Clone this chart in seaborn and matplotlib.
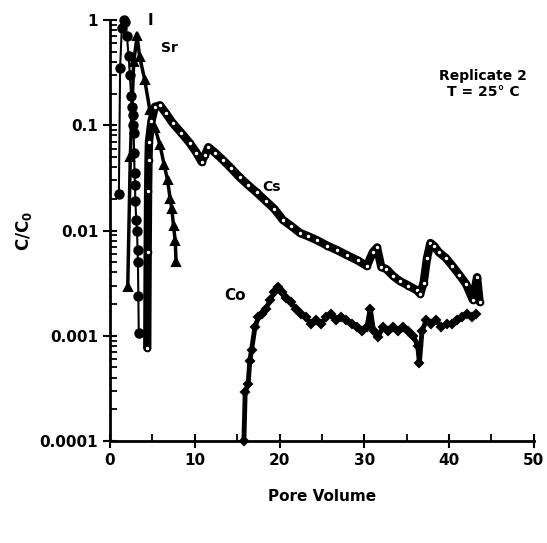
import numpy as np, pandas as pd
import seaborn as sns
import matplotlib.pyplot as plt

# pore volume / relative concentration
i_x = [1.05, 1.2, 1.4, 1.6, 1.8, 2.0, 2.2, 2.35, 2.5, 2.6, 2.7, 2.75, 2.8, 2.85, 2.9, 2.95, 3.0, 3.1, 3.2, 3.25, 3.3, 3.35, 3.4]
i_y = [0.022, 0.35, 0.85, 1.0, 0.95, 0.7, 0.46, 0.3, 0.19, 0.15, 0.125, 0.1, 0.085, 0.055, 0.035, 0.027, 0.019, 0.0126, 0.01, 0.0065, 0.005, 0.0024, 0.00105]

sr_x = [2.1, 2.4, 2.8, 3.2, 3.5, 4.1, 4.7, 5.3, 5.9, 6.4, 6.8, 7.1, 7.3, 7.5, 7.7, 7.8]
sr_y = [0.0029, 0.05, 0.4, 0.7, 0.45, 0.27, 0.14, 0.095, 0.065, 0.042, 0.03, 0.02, 0.016, 0.011, 0.008, 0.005]

cs_x = [4.4, 4.45, 4.5, 4.55, 4.6, 4.9, 5.3, 5.9, 6.6, 7.4, 8.4, 9.4, 10.2, 10.8, 11.2,
        11.6, 12.4, 13.3, 14.3, 15.3, 16.3, 17.3, 18.4, 19.4, 20.4, 21.4, 22.4, 23.4, 24.4, 25.6,
        26.8, 28.0, 29.2, 30.3, 31.0, 31.5, 32.0, 32.6, 33.4, 34.2, 35.2, 36.2, 36.6, 37.0, 37.4,
        37.8, 38.2, 38.8, 39.6, 40.4, 41.2, 42.0, 42.8, 43.3, 43.6]
cs_y = [0.00077, 0.0062, 0.024, 0.047, 0.07, 0.11, 0.15, 0.155, 0.13, 0.105, 0.085, 0.068, 0.055, 0.045, 0.052,
        0.062, 0.055, 0.047, 0.039, 0.032, 0.027, 0.023, 0.019, 0.016, 0.0126, 0.011, 0.0095, 0.0088, 0.0081, 0.0072,
        0.0065, 0.0058, 0.0052, 0.0046, 0.0062, 0.0069, 0.0045, 0.0043, 0.0037, 0.0033, 0.003, 0.0027, 0.0025, 0.0032, 0.0055,
        0.0076, 0.0072, 0.0062, 0.0055, 0.0046, 0.0038, 0.0031, 0.0022, 0.0036, 0.0021]

co_x = [15.8, 15.95, 16.3, 16.5, 16.7, 17.1, 17.5, 17.9, 18.4, 18.9, 19.4, 19.8, 20.3, 20.8, 21.3,
        21.9, 22.5, 23.1, 23.7, 24.3, 24.9, 25.5, 26.1, 26.7, 27.3, 27.9, 28.5, 29.1, 29.7, 30.3,
        30.7, 31.1, 31.6, 32.2, 32.8, 33.4, 34.0, 34.6, 35.2, 35.8, 36.3, 36.5, 36.8, 37.3, 37.9,
        38.5, 39.1, 39.7, 40.3, 40.9, 41.5, 42.1, 42.7, 43.2]
co_y = [0.0001, 0.00029, 0.00035, 0.00058, 0.00073, 0.0012, 0.0015, 0.0016, 0.0018, 0.0022, 0.0026, 0.0029, 0.0026, 0.0023, 0.0021,
        0.0018, 0.0016, 0.0015, 0.0013, 0.0014, 0.0013, 0.0015, 0.0016, 0.0014, 0.0015, 0.0014, 0.0013, 0.0012, 0.0011, 0.0012,
        0.0018, 0.0011, 0.00097, 0.0012, 0.0011, 0.0012, 0.0011, 0.0012, 0.0011, 0.00099, 0.0008, 0.00055, 0.0011, 0.0014, 0.0013,
        0.0014, 0.0012, 0.0013, 0.0013, 0.0014, 0.0015, 0.0016, 0.0015, 0.0016]

sns.set_style("ticks")
plt.rcParams['font.family'] = ['DejaVu Sans']
plt.rcParams['font.weight'] = 'bold'
plt.rcParams['text.color'] = 'black'
plt.rcParams['axes.labelcolor'] = 'black'
plt.rcParams['xtick.color'] = 'black'
plt.rcParams['ytick.color'] = 'black'
plt.rcParams['axes.edgecolor'] = 'black'

fig = plt.figure(figsize=(5.47, 5.43), dpi=100)
ax = fig.add_axes([0.201, 0.188, 0.775, 0.775])

def curve(x, y, marker, lw, ms, mfc):
    d = pd.DataFrame({"x": x, "y": y})
    sns.lineplot(data=d, x="x", y="y", ax=ax, color="black", lw=lw, sort=False,
                 marker=marker, markersize=ms, markerfacecolor=mfc,
                 markeredgecolor="black", markeredgewidth=1.5, clip_on=False)

curve(i_x, i_y, "o", 1.5, 6, "black")
curve(sr_x, sr_y, "^", 2.5, 6, "black")
curve(co_x, co_y, "D", 3.5, 4.5, "black")
curve(cs_x, cs_y, "o", 6.0, 4, "white")

ax.set_yscale("log")
ax.set_xlim(0, 50)
ax.set_ylim(0.0001, 1)
ax.set_xticks([0, 10, 20, 30, 40, 50])
ax.set_xticks([5, 15, 25, 35, 45], minor=True)
ax.set_yticks([0.0001, 0.001, 0.01, 0.1, 1])
ax.set_yticklabels(["0.0001", "0.001", "0.01", "0.1", "1"])
ax.tick_params(axis="both", which="major", direction="inout", length=10, width=1.5, labelsize=11)
ax.tick_params(axis="both", which="minor", direction="in", length=5, width=1.3)
for s in ["left", "bottom"]:
    ax.spines[s].set_linewidth(2)
sns.despine(ax=ax)

ax.set_xlabel("Pore Volume", fontsize=11, fontweight="bold", labelpad=15)
ax.set_ylabel("C/C$_0$", fontsize=12, fontweight="bold", labelpad=4)

ax.text(4.5, 0.9, "I", fontsize=11, fontweight="bold")
ax.text(6.0, 0.5, "Sr", fontsize=10, fontweight="bold")
ax.text(18.0, 0.024, "Cs", fontsize=10, fontweight="bold")
ax.text(13.5, 0.0022, "Co", fontsize=11, fontweight="bold")
ax.text(44, 0.19, "Replicate 2\nT = 25° C", fontsize=10, fontweight="bold", ha="center", linespacing=1.2)

fig.savefig("out.png", dpi=100)
